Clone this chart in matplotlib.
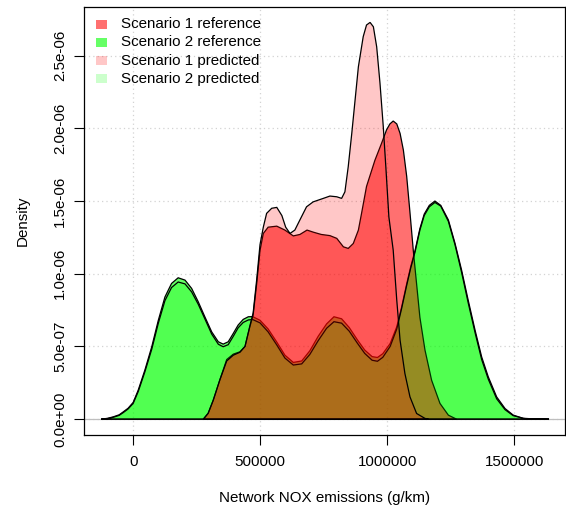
import matplotlib
matplotlib.use("Agg")
import matplotlib.pyplot as plt
import numpy as np
from matplotlib.patches import Rectangle

plt.rcParams["font.family"] = ["Liberation Sans", "DejaVu Sans"]
plt.rcParams["font.size"] = 10.9

# densities, y in units of 1e-6
s2_ref_x = [-124000, -100000, -78000, -55000, -39000, -20000, 0, 20000, 46000, 73000,
            99000, 125000, 151000, 177000, 204000, 230000, 256000, 282000, 309000, 335000,
            354000, 374000, 394000, 413000, 433000, 453000, 470000, 499000, 531000, 565000,
            597000, 630000, 663000, 695000, 728000, 761000, 790000, 820000, 850000, 883000,
            911000, 940000, 961000, 982000, 1011000, 1037000, 1056000, 1076000, 1092000,
            1109000, 1128000, 1145000, 1165000, 1187000, 1210000, 1240000, 1266000, 1292000,
            1318000, 1345000, 1371000, 1397000, 1430000, 1463000, 1495000, 1535000, 1560000]
s2_ref_y = [0.0, 0.006, 0.016, 0.03, 0.05, 0.075, 0.115, 0.2, 0.337, 0.497,
            0.68, 0.84, 0.933, 0.972, 0.956, 0.899, 0.807, 0.704, 0.60, 0.532,
            0.516, 0.532, 0.59, 0.647, 0.686, 0.704, 0.705, 0.68, 0.62, 0.53,
            0.44, 0.39, 0.40, 0.47, 0.57, 0.655, 0.704, 0.69, 0.63, 0.543,
            0.475, 0.43, 0.424, 0.45, 0.52, 0.635, 0.77, 0.93, 1.05,
            1.16, 1.31, 1.41, 1.47, 1.50, 1.47, 1.37, 1.21, 1.025,
            0.818, 0.612, 0.428, 0.291, 0.153, 0.073, 0.028, 0.005, 0.0]

s2_pred_x = [-126000, -100000, -78000, -55000, -39000, -20000, 0, 20000, 46000, 73000,
             99000, 125000, 151000, 177000, 204000, 230000, 256000, 282000, 309000, 335000,
             354000, 374000, 394000, 413000, 433000, 453000, 470000, 499000, 531000, 565000,
             597000, 630000, 663000, 695000, 728000, 761000, 790000, 820000, 850000, 883000,
             911000, 940000, 961000, 982000, 1011000, 1037000, 1056000, 1076000, 1092000,
             1109000, 1128000, 1145000, 1165000, 1187000, 1210000, 1240000, 1266000, 1292000,
             1318000, 1345000, 1371000, 1397000, 1430000, 1463000, 1495000, 1535000, 1580000,
             1636000]
s2_pred_y = [0.0, 0.004, 0.013, 0.026, 0.045, 0.07, 0.108, 0.19, 0.325, 0.48,
             0.66, 0.815, 0.905, 0.943, 0.93, 0.875, 0.79, 0.69, 0.585, 0.515,
             0.498, 0.512, 0.57, 0.628, 0.665, 0.682, 0.685, 0.662, 0.60, 0.51,
             0.42, 0.372, 0.38, 0.445, 0.54, 0.625, 0.67, 0.66, 0.605, 0.52,
             0.452, 0.405, 0.398, 0.425, 0.50, 0.62, 0.76, 0.92, 1.04,
             1.15, 1.30, 1.40, 1.46, 1.49, 1.465, 1.36, 1.20, 1.01,
             0.80, 0.595, 0.41, 0.275, 0.14, 0.065, 0.024, 0.006, 0.001,
             0.0]

s1_ref_x = [276000, 295000, 315000, 341000, 368000, 394000, 420000, 440000, 459000, 472000,
            486000, 499000, 512000, 531000, 565000, 597000, 630000, 656000, 684000, 710000,
            740000, 774000, 801000, 827000, 846000, 866000, 886000, 899000, 918000, 951000,
            977000, 997000, 1010000, 1023000, 1037000, 1050000, 1063000, 1076000, 1089000,
            1102000, 1115000, 1128000, 1148000, 1174000, 1207000, 1240000, 1272000]
s1_ref_y = [0.0, 0.04, 0.13, 0.27, 0.41, 0.447, 0.463, 0.50, 0.635, 0.715,
            0.933, 1.16, 1.277, 1.32, 1.327, 1.30, 1.26, 1.27, 1.30, 1.285,
            1.27, 1.262, 1.243, 1.185, 1.174, 1.208, 1.30, 1.42, 1.60, 1.78,
            1.896, 1.99, 2.03, 2.05, 2.03, 1.965, 1.85, 1.67, 1.42,
            1.16, 0.93, 0.70, 0.475, 0.268, 0.108, 0.0275, 0.0]

s1_pred_x = [276000, 295000, 315000, 341000, 368000, 394000, 420000, 440000, 459000, 472000,
             486000, 499000, 512000, 525000, 545000, 565000, 585000, 600000, 617000, 636000,
             656000, 682000, 708000, 748000, 774000, 801000, 820000, 833000, 846000, 860000,
             873000, 886000, 905000, 918000, 932000, 945000, 958000, 971000, 984000, 994000,
             1006000, 1023000, 1037000, 1050000, 1069000, 1089000, 1115000, 1148000, 1162000]
s1_pred_y = [0.0, 0.04, 0.13, 0.27, 0.40, 0.44, 0.46, 0.50, 0.64, 0.73,
             0.96, 1.20, 1.32, 1.415, 1.45, 1.456, 1.40, 1.32, 1.277, 1.30,
             1.37, 1.46, 1.494, 1.518, 1.534, 1.529, 1.518, 1.563, 1.735, 1.965,
             2.194, 2.423, 2.63, 2.71, 2.728, 2.698, 2.56, 2.31, 2.01, 1.735,
             1.39, 1.162, 0.818, 0.543, 0.314, 0.153, 0.039, 0.005, 0.0]

labels = ["Scenario 1 reference", "Scenario 2 reference",
          "Scenario 1 predicted", "Scenario 2 predicted"]
colors = [(1, 0, 0, 0.56), (0, 1, 0, 0.6), (1, 0, 0, 0.22), (0, 1, 0, 0.2)]

x_ticks = [0, 500000, 1000000, 1500000]
y_ticks = [0, 0.5, 1.0, 1.5, 2.0, 2.5]
y_tick_labels = ["0.0e+00", "5.0e-07", "1.0e-06", "1.5e-06", "2.0e-06", "2.5e-06"]

W, H = 566, 511
fig = plt.figure(figsize=(W / 100, H / 100), dpi=100)
ax = fig.add_axes([84.1 / W, (H - 435) / H, (565.3 - 84.1) / W, (435 - 6.7) / H])
ax.set_xlim(-193000, 1700000)
ax.set_ylim(-0.109e-6, 2.836e-6)

for xv in x_ticks:
    ax.axvline(xv, color="#d3d3d3", lw=0.9, ls=(0, (1, 2.5)), zorder=0)
for yv in y_ticks:
    ax.axhline(yv * 1e-6, color="#d3d3d3", lw=0.9, ls=(0, (1, 2.5)), zorder=0)
ax.axhline(0, color="#bebebe", lw=0.9, zorder=0.5)

# draw order: S2 ref, S1 ref, S2 pred, S1 pred
curves = [
    (s2_ref_x, s2_ref_y, colors[1]),
    (s1_ref_x, s1_ref_y, colors[0]),
    (s2_pred_x, s2_pred_y, colors[3]),
    (s1_pred_x, s1_pred_y, colors[2]),
]
for i, (cx, cy, c) in enumerate(curves):
    ax.fill(cx, np.array(cy) * 1e-6, facecolor=c, edgecolor="black", lw=0.9, zorder=1 + i)

ax.set_xticks(x_ticks)
ax.set_xticklabels([str(v) for v in x_ticks])
ax.set_yticks([v * 1e-6 for v in y_ticks])
ax.set_yticklabels(y_tick_labels, rotation=90, va="center")
ax.tick_params(axis="both", direction="out", length=7.2, width=0.8, color="black")
ax.tick_params(axis="x", pad=7.5)
ax.tick_params(axis="y", pad=5)
for sp in ax.spines.values():
    sp.set_linewidth(0.9)

fig.text(324.7 / W, 1 - 498 / H, "Network NOX emissions (g/km)", ha="center", va="center")
fig.text(22.7 / W, 1 - 221 / H, "Density", ha="center", va="center", rotation=90)

# legend without frame, like R bty="n"
rows = [24.3, 42.3, 60.7, 78.7]
for lab, c, ry in zip(labels, colors, rows):
    fig.patches.append(Rectangle((96 / W, 1 - (ry + 4.7) / H), 10.7 / W, 9.4 / H,
                                 transform=fig.transFigure, facecolor=c, edgecolor="none"))
    fig.text(121 / W, 1 - ry / H, lab, ha="left", va="center")

fig.savefig("out.png", dpi=100)
